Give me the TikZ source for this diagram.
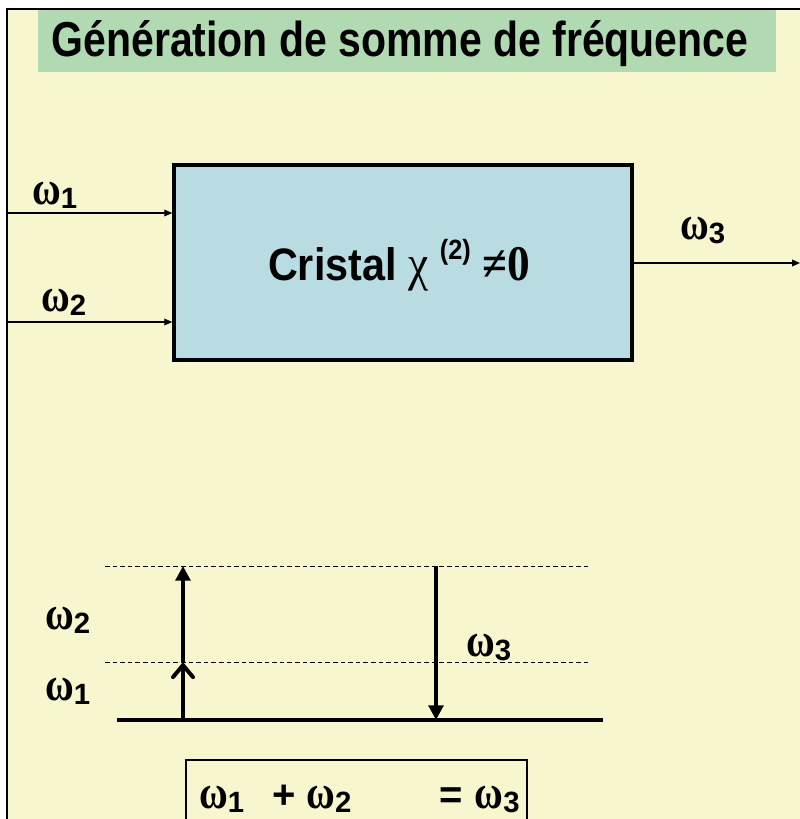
\documentclass[tikz,border=0pt]{standalone}
\usepackage{fontspec}
\setmainfont{Liberation Sans}
\newfontfamily\serifgr{Liberation Serif}
\usetikzlibrary{arrows.meta}
\definecolor{cream}{RGB}{248,246,206}
\definecolor{titlegreen}{RGB}{178,218,178}
\definecolor{crystal}{RGB}{185,220,226}
\newcommand{\om}[1]{\scalebox{0.95}[1.15]{\fontsize{31}{31}\selectfont\serifgr\bfseries ω}\raisebox{-0.3em}{\fontsize{22}{22}\selectfont\bfseries #1}}
\tikzset{
  lab/.style={anchor=base west, inner sep=0pt},
  thinarrow/.style={line width=1pt, -{Triangle[length=6pt,width=5pt]}},
  bigarrow/.style={line width=3pt, -{Triangle[length=11pt,width=11pt]}},
  levdash/.style={line width=0.6pt, dash pattern=on 3.5pt off 2.2pt},
}
\begin{document}
\begin{tikzpicture}[x=0.75pt,y=-0.75pt]
\useasboundingbox (0,0) rectangle (800,819);
% background
\fill[cream] (7,9) rectangle (800,819);
\draw[line width=1.2pt] (7,819) -- (7,9) -- (800,9);
% title
\node[fill=titlegreen, minimum width=553.5pt, minimum height=46.5pt, inner sep=0pt] (title) at (407,41) {};
\node[inner sep=0pt, anchor=base] (ttext) at (400,56) {\scalebox{0.96}[1.15]{\fontsize{32}{32}\selectfont\bfseries Génération de somme de fréquence}};
% crystal
\node[draw, line width=2.6pt, fill=crystal, minimum width=343.5pt, minimum height=146.25pt, inner sep=0pt] (cr) at (403,262.5) {};
\node[inner sep=0pt, anchor=base] (crtext) at (399,280) {\scalebox{1}[1.1]{\fontsize{31}{31}\selectfont\bfseries Cristal {\fontsize{34}{34}\selectfont\serifgr\mdseries χ} \raisebox{0.45em}{\fontsize{19}{19}\selectfont (2)} {\fontsize{34}{34}\selectfont\serifgr ≠0}}};
% input / output
\coordinate (in1) at (7,213);
\coordinate (in2) at (7,322);
\coordinate (out) at (800,263);
\draw[thinarrow] (in1) -- (in1 -| cr.west);
\draw[thinarrow] (in2) -- (in2 -| cr.west);
\draw[thinarrow] (out -| cr.east) -- (out);
\node[lab] (w1) at (32,204) {\om{1}};
\node[lab] (w2) at (41,311) {\om{2}};
\node[lab] (w3) at (680,239) {\om{3}};
% energy levels
\coordinate (t1) at (105,566); \coordinate (t2) at (590,566);
\coordinate (m1) at (105,662); \coordinate (m2) at (590,662);
\coordinate (g1) at (117,720); \coordinate (g2) at (603,720);
\draw[levdash] (t1) -- (t2);
\draw[levdash] (m1) -- (m2);
\draw[line width=2.5pt] (g1) -- (g2);
\coordinate (a0) at (183,720); \coordinate (a1) at (183,662); \coordinate (a2) at (183,566);
\coordinate (b0) at (436,566); \coordinate (b1) at (436,720);
\draw[line width=3pt, -{Straight Barb[length=9pt,width=15pt,line cap=round]}] (a0) -- (a1);
\draw[bigarrow] (a1) -- (a2);
\draw[bigarrow] (b0) -- (b1);
\node[lab] (e2) at (45,629) {\om{2}};
\node[lab] (e1) at (45,700) {\om{1}};
\node[lab] (e3) at (466,656) {\om{3}};
% equation box
\draw[line width=1.1pt] (186,819) -- (186,760) -- (527,760) -- (527,819);
\node[lab] (eq) at (199,808) {\om{1}\hspace{21pt}{\fontsize{30}{30}\selectfont\bfseries +}\hspace{8pt}\om{2}\hspace{66pt}{\fontsize{30}{30}\selectfont\bfseries =}\hspace{9pt}\om{3}};
\end{tikzpicture}
\end{document}
